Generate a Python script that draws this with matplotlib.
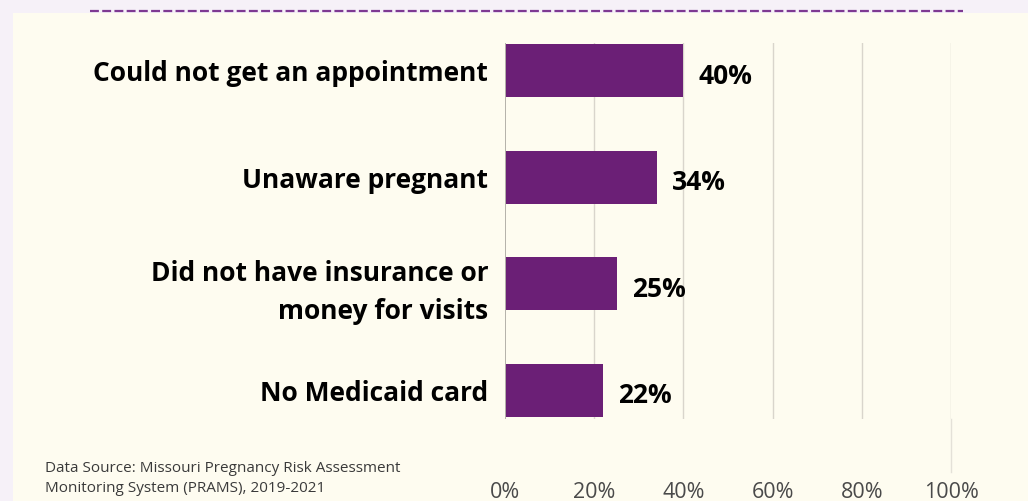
import matplotlib.pyplot as plt
from matplotlib.patches import Rectangle
from matplotlib.lines import Line2D

# data
categories = ["Could not get an appointment", "Unaware pregnant",
              "Did not have insurance or\nmoney for visits", "No Medicaid card"]
values = [40, 34, 25, 22]
xticks = [0, 20, 40, 60, 80, 100]
source = "Data Source: Missouri Pregnancy Risk Assessment\nMonitoring System (PRAMS), 2019-2021"

PURPLE = "#6B1F76"
CREAM = "#FEFCF0"
LAVENDER = "#F6F1F8"

plt.rcParams['font.family'] = ['Open Sans', 'DejaVu Sans']

W, H = 1028, 501
fig = plt.figure(figsize=(W / 100, H / 100), dpi=100, facecolor=LAVENDER)

# cream panel + dashed rule under the (cropped) title
fig.patches.append(Rectangle((13 / W, 0), 1, 1 - 13 / H, transform=fig.transFigure,
                             facecolor=CREAM, edgecolor="none", zorder=-5))
fig.lines.append(Line2D([90 / W, 963 / W], [1 - 11 / H, 1 - 11 / H], transform=fig.transFigure,
                        color="#7E3A92", lw=1.6, linestyle=(0, (4, 1.5))))

left, right, top, bottom = 505, 951, 43, 419
ax = fig.add_axes([left / W, 1 - bottom / H, (right - left) / W, (bottom - top) / H])
ax.set_facecolor("none")

ypos = list(range(len(categories)))
ax.barh(ypos, values, height=0.5, color=PURPLE, zorder=3)
ax.set_xlim(0, 100)
ax.set_ylim(3.27, -0.26)

for x in xticks[1:]:
    ax.axvline(x, color="#D9D5CC", lw=1, zorder=1)
ax.axvline(100, ymin=-0.141, ymax=0, color="#E4E1D8", lw=1, zorder=1, clip_on=False)
ax.axvline(0, color="#B5B1AA", lw=1.4, zorder=4)

for y, v in zip(ypos, values):
    ax.annotate(f"{v}%", (v, y), xytext=(11, -4), textcoords="offset points",
                ha="left", va="center", fontsize=19, fontweight="bold", color="black")

ax.set_xticks(xticks)
ax.set_xticklabels([f"{t}%" for t in xticks])
ax.set_yticks(ypos)
ax.set_yticklabels(categories, fontsize=19, fontweight="bold", color="black",
                   linespacing=1.55)
ax.tick_params(axis="x", length=0, pad=45, labelsize=15.5, labelcolor="#4A4A4A")
ax.tick_params(axis="y", length=0, pad=12)
for s in ax.spines.values():
    s.set_visible(False)

fig.text(45 / W, 1 - 461 / H, source, fontsize=11, color="#3A3A3A",
         ha="left", va="top", linespacing=1.5)

fig.savefig("out.png", dpi=100, facecolor=LAVENDER)
